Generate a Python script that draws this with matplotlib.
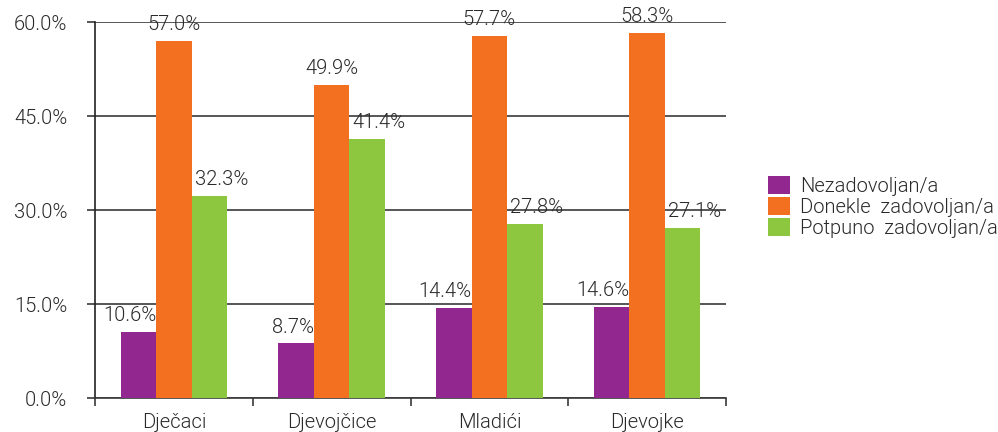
import matplotlib
matplotlib.use("Agg")
import matplotlib.pyplot as plt
from matplotlib.patches import Patch
import numpy as np

categories = ["Dječaci", "Djevojčice", "Mladići", "Djevojke"]
series_names = ["Nezadovoljan/a", "Donekle  zadovoljan/a", "Potpuno  zadovoljan/a"]
nezadovoljan = [10.6, 8.7, 14.4, 14.6]
donekle = [57.0, 49.9, 57.7, 58.3]
potpuno = [32.3, 41.4, 27.8, 27.1]
colors = ["#92278F", "#F37021", "#8DC63F"]
yticks = [0, 15, 30, 45, 60]

plt.rcParams['font.family'] = ['Roboto', 'DejaVu Sans']
plt.rcParams['font.weight'] = 300

FS = 14.5
TXT = "#2a2a2a"

fig = plt.figure(figsize=(9.98, 4.32), dpi=100)
ax = fig.add_axes([95/998, 34/432, (726-95)/998, (398-22)/432])

x = np.arange(len(categories))
w = 0.225
data = [nezadovoljan, donekle, potpuno]
offsets = [-w, 0, w]
aligns = ["right", "center", "left"]
for vals, off, col, al in zip(data, offsets, colors, aligns):
    bars = ax.bar(x + off, vals, width=w, color=col, zorder=3)
    for b, v in zip(bars, vals):
        if al == "right":
            tx = b.get_x() + b.get_width()
        elif al == "left":
            tx = b.get_x() + 0.02
        else:
            tx = b.get_x() + b.get_width() / 2
        ax.annotate(f"{v:.1f}%", (tx, v), xytext=(0, 5), textcoords="offset points",
                    ha=al, va="bottom", fontsize=FS, color=TXT, zorder=4)

ax.set_xlim(-0.5, 3.5)
ax.set_ylim(0, 60)
ax.set_yticks(yticks)
ax.set_yticklabels([f"{t:.1f}%" for t in yticks], fontsize=FS, color=TXT)
ax.yaxis.grid(True, color="#3a3a3a", linewidth=1.2, zorder=1)
ax.set_axisbelow(True)
ax.tick_params(axis="y", length=6, width=1.2, color="#3a3a3a", pad=14)

ax.set_xticks(x)
ax.set_xticklabels(categories, fontsize=FS, color=TXT)
ax.set_xticks(np.arange(-0.5, 4.0, 1.0), minor=True)
ax.tick_params(axis="x", which="major", length=0, pad=11)
ax.tick_params(axis="x", which="minor", length=6, width=1.2, color="#3a3a3a")

for s in ["top", "right"]:
    ax.spines[s].set_visible(False)
ax.spines["left"].set_color("#222222")
ax.spines["left"].set_linewidth(1.2)
ax.spines["bottom"].set_color("#3a3a3a")
ax.spines["bottom"].set_linewidth(1.2)

handles = [Patch(facecolor=c, edgecolor="none") for c in colors]
fig.legend(handles, series_names, loc="upper left", bbox_to_anchor=(764/998, 1 - 172/432),
           frameon=False, fontsize=FS, handlelength=1.1, handleheight=1.0,
           handletextpad=0.5, labelspacing=0.05, borderaxespad=0, borderpad=0.2,
           labelcolor=TXT)

fig.savefig("out.png", dpi=100)
